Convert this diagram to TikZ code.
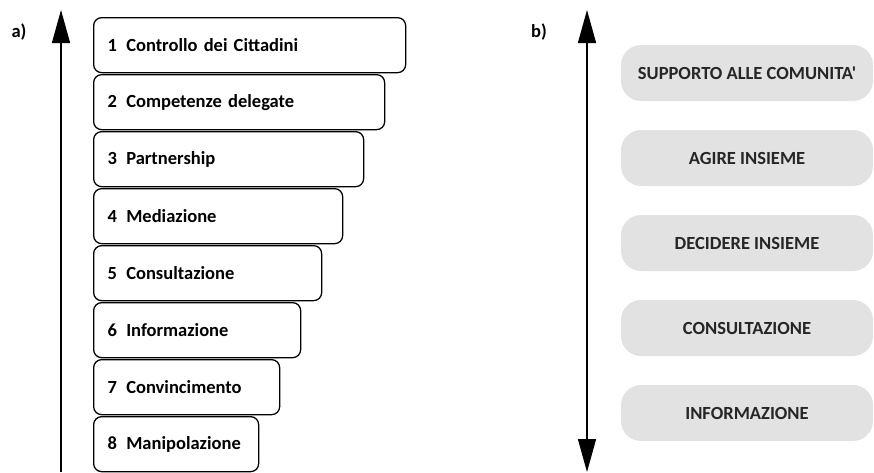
\documentclass[tikz,border=0pt]{standalone}
\usepackage{fontspec}
\usepackage{tikz}
\usetikzlibrary{arrows.meta}

\newfontfamily\carlito{Carlito}
\newcommand{\lbl}{\carlito\bfseries\fontsize{15.8}{18}\selectfont}
\definecolor{pillgray}{RGB}{226,226,226}

\tikzset{
  stepbox/.style={draw, line width=1.1pt, rounded corners=0.24cm, anchor=north west,
    minimum height=1.65cm, inner xsep=0.42cm, align=left, text width=#1, font=\lbl},
  level/.style={fill=pillgray, rounded corners=0.6cm, minimum width=7.56cm,
    minimum height=1.68cm, font=\lbl, text=black!85},
  axis/.style={line width=1.2pt},
  >={Triangle[length=0.99cm, width=0.54cm]}
}

\begin{document}
\begin{tikzpicture}[x=0.03cm, y=-0.03cm]
\useasboundingbox (0,0) rectangle (874,472);

% Scala a)
\node[font=\lbl] (lbla) at (19,32) {a)};
\coordinate (abot) at (61,472);
\coordinate (atop) at (61,10);
\draw[axis, ->] (abot) -- (atop);

\node[stepbox=8.52cm] (s1) at (93,17)  {1\enspace Controllo dei Cittadini};
\node[stepbox=7.89cm] (s2) at (93,74)  {2\enspace Competenze delegate};
\node[stepbox=7.26cm] (s3) at (93,131) {3\enspace Partnership};
\node[stepbox=6.63cm] (s4) at (93,188) {4\enspace Mediazione};
\node[stepbox=6.00cm] (s5) at (93,245) {5\enspace Consultazione};
\node[stepbox=5.37cm] (s6) at (93,302) {6\enspace Informazione};
\node[stepbox=4.74cm] (s7) at (93,359) {7\enspace Convincimento};
\node[stepbox=4.11cm] (s8) at (93,416) {8\enspace Manipolazione};

% Scala b)
\node[font=\lbl] (lblb) at (539,32) {b)};
\coordinate (bbot) at (587,472);
\coordinate (btop) at (587,10);
\draw[axis, <->] (bbot) -- (btop);

\node[level] (l1) at (747,73)  {SUPPORTO ALLE COMUNITA'};
\node[level] (l2) at (747,158) {AGIRE INSIEME};
\node[level] (l3) at (747,243) {DECIDERE INSIEME};
\node[level] (l4) at (747,328) {CONSULTAZIONE};
\node[level] (l5) at (747,413) {INFORMAZIONE};

\end{tikzpicture}
\end{document}
